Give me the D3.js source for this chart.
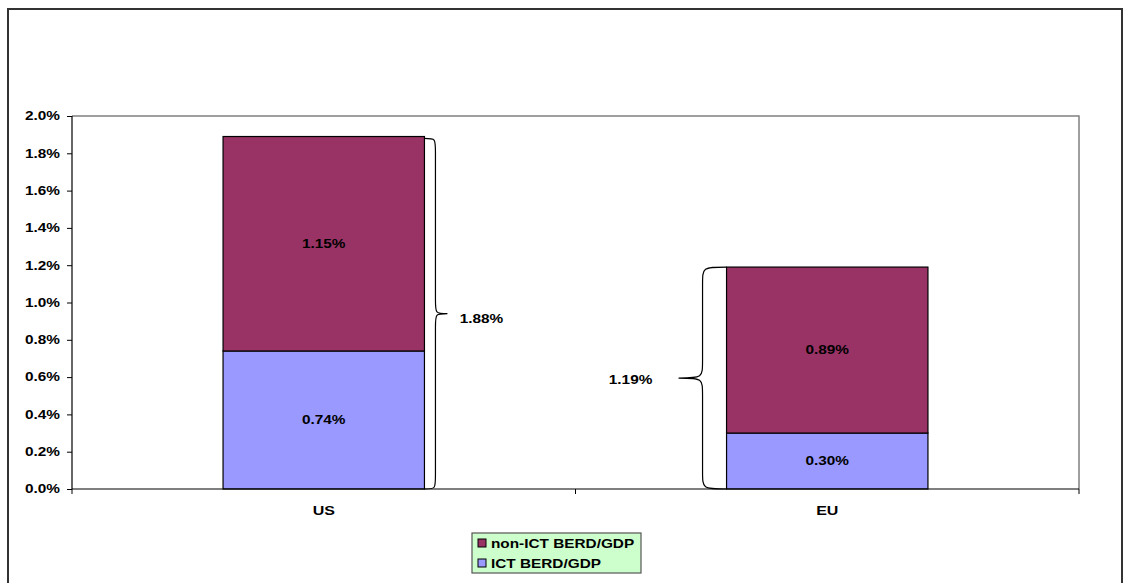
<!DOCTYPE html>
<html>
<head>
<meta charset="utf-8">
<script src="https://cdn.jsdelivr.net/npm/d3@7"></script>
<style>
  html, body { margin: 0; padding: 0; background: #fff; }
  svg { display: block; font-family: Arial, "Liberation Sans", sans-serif; }
  .tick text { font-weight: bold; font-size: 12px; fill: #000; }
</style>
</head>
<body>
<svg id="chart" width="1129" height="583"></svg>
<script>
// BERD intensity, % of GDP
const regions = ["US", "EU"];
const ictShare = [0.74, 0.30];      // ICT BERD/GDP
const nonIctShare = [1.15, 0.89];   // non-ICT BERD/GDP
const totalShare = [1.88, 1.19];    // total BERD/GDP
const seriesNames = ["non-ICT BERD/GDP", "ICT BERD/GDP"];
const seriesColors = ["#993366", "#9999FF"];
const yTicks = [0, 0.2, 0.4, 0.6, 0.8, 1.0, 1.2, 1.4, 1.6, 1.8, 2.0];

const SX = 1.28; // horizontal text stretch

// move x/y into a transform so the glyphs can be widened in place
function stretch(sel) {
  sel.each(function () {
    const t = d3.select(this);
    const tx = +t.attr("x") || 0, ty = +t.attr("y") || 0;
    t.attr("x", 0).attr("y", 0)
      .attr("transform", `translate(${tx},${ty}) scale(${SX},1)`);
  });
}

const svg = d3.select("#chart");

// chart area frame
svg.append("rect")
  .attr("x", 8).attr("y", 9).attr("width", 1114).attr("height", 600)
  .attr("fill", "#fff").attr("stroke", "#333").attr("stroke-width", 2);

const plot = { left: 72, right: 1079, top: 116, bottom: 489 };

const x = d3.scaleBand().domain(regions).range([plot.left, plot.right])
  .paddingInner(0.6).paddingOuter(0.3);
const xCat = d3.scaleBand().domain(regions).range([plot.left, plot.right]);
const y = d3.scaleLinear().domain([0, 2.0]).range([plot.bottom, plot.top]);

// plot area border (top & right)
svg.append("path")
  .attr("d", `M${plot.left},${plot.top}H${plot.right}V${plot.bottom}`)
  .attr("fill", "none").attr("stroke", "#808080").attr("stroke-width", 1.5);

// stacked data
const rows = regions.map((r, i) => ({ region: r, ict: ictShare[i], nonict: nonIctShare[i], total: totalShare[i] }));
const stack = d3.stack().keys(["ict", "nonict"])(rows);
const colorOf = { ict: seriesColors[1], nonict: seriesColors[0] };

const layers = svg.append("g").selectAll("g").data(stack).join("g")
  .attr("fill", d => colorOf[d.key]);

layers.selectAll("rect").data(d => d).join("rect")
  .attr("x", d => x(d.data.region))
  .attr("width", x.bandwidth())
  .attr("y", d => y(d[1]))
  .attr("height", d => y(d[0]) - y(d[1]))
  .attr("stroke", "#000").attr("stroke-width", 1.2);

// segment value labels
layers.selectAll("text").data(d => d.map(v => ({ v, key: d.key }))).join("text")
  .attr("x", d => x(d.v.data.region) + x.bandwidth() / 2)
  .attr("y", d => (y(d.v[0]) + y(d.v[1])) / 2 + 4)
  .attr("text-anchor", "middle")
  .attr("font-size", 12).attr("font-weight", "bold").attr("fill", "#000")
  .text(d => d3.format(".2f")(d.v.data[d.key]) + "%")
  .call(stretch);

// y axis
const yAxis = svg.append("g")
  .attr("transform", `translate(${plot.left},0)`)
  .call(d3.axisLeft(y).tickValues(yTicks).tickSize(5).tickPadding(7)
    .tickFormat(d => d3.format(".1f")(d) + "%"));
yAxis.select(".domain").attr("stroke", "#000").attr("stroke-width", 1.2).attr("d", `M0,${plot.top}V${plot.bottom}`);
yAxis.selectAll(".tick line").attr("stroke", "#000");
yAxis.selectAll(".tick text").call(stretch);

// x axis with category boundary ticks
const xAxisG = svg.append("g").attr("transform", `translate(0,${plot.bottom})`);
xAxisG.append("line").attr("x1", plot.left).attr("x2", plot.right)
  .attr("stroke", "#000").attr("stroke-width", 1.2);
const bounds = regions.map(r => xCat(r)).concat([plot.right]);
xAxisG.selectAll("line.b").data(bounds).join("line").attr("class", "b")
  .attr("x1", d => d).attr("x2", d => d).attr("y1", 0).attr("y2", 5)
  .attr("stroke", "#000");
xAxisG.selectAll("text").data(regions).join("text")
  .attr("x", d => xCat(d) + xCat.bandwidth() / 2)
  .attr("y", 26)
  .attr("text-anchor", "middle")
  .attr("font-size", 12.5).attr("font-weight", "bold")
  .text(d => d)
  .call(stretch);

// curly brace: dir = +1 points right, -1 points left
function bracePath(x0, yTop, yBot, dir, w, tip, r) {
  const mid = (yTop + yBot) / 2;
  const xv = x0 + dir * w, xt = xv + dir * tip;
  return `M${x0},${yTop}` +
    `C${xv},${yTop} ${xv},${yTop} ${xv},${yTop + r}` +
    `L${xv},${mid - r}` +
    `C${xv},${mid} ${xv},${mid} ${xt},${mid}` +
    `C${xv},${mid} ${xv},${mid} ${xv},${mid + r}` +
    `L${xv},${yBot - r}` +
    `C${xv},${yBot} ${xv},${yBot} ${x0},${yBot}`;
}

const braces = svg.append("g");
// US total: brace to the right of the bar
{
  const i = 0;
  const x0 = x(regions[i]) + x.bandwidth();
  braces.append("path")
    .attr("d", bracePath(x0, y(totalShare[i]), y(0), 1, 11, 12, 14))
    .attr("fill", "none").attr("stroke", "#000").attr("stroke-width", 1.2);
  braces.append("text")
    .attr("x", x0 + 57).attr("y", (y(totalShare[i]) + y(0)) / 2 + 9)
    .attr("text-anchor", "middle").attr("font-size", 12).attr("font-weight", "bold")
    .text(d3.format(".2f")(totalShare[i]) + "%")
    .call(stretch);
}
// EU total: brace to the left of the bar
{
  const i = 1;
  const x0 = x(regions[i]);
  braces.append("path")
    .attr("d", bracePath(x0, y(totalShare[i]), y(0), -1, 24, 24, 18))
    .attr("fill", "none").attr("stroke", "#000").attr("stroke-width", 1.2);
  braces.append("text")
    .attr("x", x0 - 96).attr("y", (y(totalShare[i]) + y(0)) / 2 + 6)
    .attr("text-anchor", "middle").attr("font-size", 12).attr("font-weight", "bold")
    .text(d3.format(".2f")(totalShare[i]) + "%")
    .call(stretch);
}

// legend
const lg = svg.append("g").attr("transform", "translate(472,533)");
lg.append("rect").attr("width", 169).attr("height", 40)
  .attr("fill", "#CCFFCC").attr("stroke", "#555").attr("stroke-width", 1.2);
const items = lg.selectAll("g").data(seriesNames).join("g")
  .attr("transform", (d, i) => `translate(6,${10 + i * 20})`);
items.append("rect").attr("x", 0).attr("y", -4).attr("width", 8).attr("height", 8)
  .attr("fill", (d, i) => seriesColors[i]).attr("stroke", "#000").attr("stroke-width", 1);
items.append("text").attr("x", 13).attr("y", 4.5)
  .attr("font-size", 12).attr("font-weight", "bold").text(d => d)
  .call(stretch);
</script>
</body>
</html>
